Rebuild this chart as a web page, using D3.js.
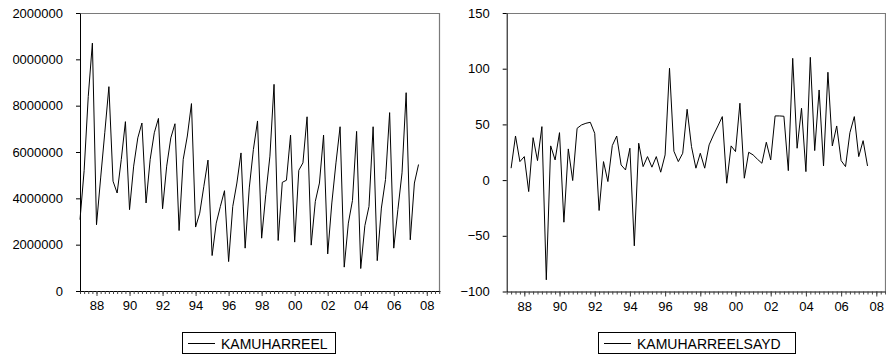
<!DOCTYPE html>
<html>
<head>
<meta charset="utf-8">
<script src="https://cdn.jsdelivr.net/npm/d3@7"></script>
<style>
  body { margin: 0; background: #fff; }
  svg { display: block; font-family: "Liberation Sans", Arial, sans-serif; }
</style>
</head>
<body>
<svg id="chart" width="886" height="358"></svg>
<script>
// quarterly series, 1987Q1 .. 2007Q3
const startYear = 1987;
const kamuharreel = [
  3.08, 5.2, 8.4, 10.7, 2.86, 4.88, 6.83, 8.82, 4.74, 4.23,
  5.68, 7.31, 3.51, 5.39, 6.61, 7.25, 3.80, 5.68, 6.83, 7.45,
  3.55, 5.39, 6.61, 7.22, 2.61, 5.68, 6.69, 8.09, 2.76, 3.36,
  4.52, 5.65, 1.53, 2.93, 3.65, 4.33, 1.27, 3.65, 4.66, 5.96,
  1.85, 4.45, 6.11, 7.34, 2.28, 4.16, 5.82, 8.92, 2.18, 4.69,
  4.78, 6.73, 2.11, 5.21, 5.53, 7.52, 1.98, 3.87, 4.66, 6.73,
  1.60, 3.80, 5.53, 7.09, 1.03, 2.93, 3.91, 6.89, 0.97, 2.82,
  3.65, 7.09, 1.31, 3.58, 4.81, 7.70, 1.85, 3.51, 5.10, 8.56,
  2.21, 4.66, 5.46
].map(v => v * 1e6);

// starts 1987Q2
const kamuharreelsayd = [
  10.7, 39.6, 16.6, 21.1, -10.3, 38.1, 17.5, 48.0, -89.5, 30.7,
  18.1, 42.6, -37.8, 28.0, -0.4, 46.5, 49.5, 51.0, 51.9, 42.0,
  -27.3, 16.6, -1.3, 31.0, 39.6, 13.6, 9.1, 28.6, -59.0, 33.1,
  12.1, 21.1, 11.6, 21.1, 7.1, 22.6, 100.4, 25.9, 16.6, 24.1,
  63.6, 30.0, 10.7, 24.1, 10.7, 31.6, 40.5, 48.6, 57.0, -2.8,
  30.7, 25.6, 69.0, 1.7, 25.0, 22.6, 18.7, 15.1, 34.0, 18.1,
  57.6, 57.6, 57.3, 8.5, 109.3, 28.6, 64.5, 7.6, 110.2, 26.5,
  80.9, 12.7, 96.8, 30.7, 48.6, 17.5, 12.1, 42.6, 57.0, 21.1,
  35.4, 12.7
];

const yearTicks = [1988, 1990, 1992, 1994, 1996, 1998, 2000, 2002, 2004, 2006, 2008];
const yearLabels = ['88', '90', '92', '94', '96', '98', '00', '02', '04', '06', '08'];
const leftTicks = [0, 2000000, 4000000, 6000000, 8000000, 10000000, 12000000];
const rightTicks = [-100, -50, 0, 50, 100, 150];

const svg = d3.select('#chart');

// the original picture is cropped on the left, labels get cut
svg.append('defs').append('clipPath').attr('id', 'crop')
  .append('rect').attr('x', 12.5).attr('y', 0).attr('width', 886).attr('height', 358);

function panel(opts) {
  const { x0, x1, y0, y1, tEnd, yDomain, yTicks, values, tStart, name, legendX, legendW } = opts;

  const x = d3.scaleLinear().domain([startYear, tEnd]).range([x0, x1]);
  const y = d3.scaleLinear().domain(yDomain).range([y1, y0]);
  const g = svg.append('g').attr('clip-path', 'url(#crop)');

  // frame (top and right, grey)
  g.append('path')
    .attr('d', `M${x0},${y0 + 0.5}H${x1 - 0.5}V${y1}`)
    .attr('fill', 'none')
    .attr('stroke', '#7a7a7a')
    .attr('stroke-width', 1.2);

  // quarter ticks
  const quarters = d3.range(0, Math.floor((tEnd - startYear) * 4) + 1).map(q => startYear + q / 4);
  const xAxis = d3.axisBottom(x)
    .tickValues(quarters)
    .tickSize(3)
    .tickSizeOuter(0)
    .tickFormat('');
  const gx = g.append('g')
    .attr('transform', `translate(0,${y1})`)
    .call(xAxis);
  gx.select('.domain').attr('stroke', '#000');
  gx.selectAll('.tick line').attr('stroke', '#444');

  // year labels
  const gl = g.append('g')
    .attr('transform', `translate(0,${y1})`)
    .call(d3.axisBottom(x)
      .tickValues(yearTicks)
      .tickSize(5)
      .tickPadding(5)
      .tickFormat((d, i) => yearLabels[i]));
  gl.select('.domain').remove();
  gl.selectAll('.tick line').attr('stroke', '#444');
  gl.selectAll('text').attr('font-size', 13).attr('fill', '#000').attr('font-family', '"Liberation Sans", Arial, sans-serif');

  // y axis
  const gy = g.append('g')
    .attr('transform', `translate(${x0},0)`)
    .call(d3.axisLeft(y)
      .tickValues(yTicks)
      .tickSize(4)
      .tickSizeOuter(0)
      .tickPadding(13)
      .tickFormat(d3.format('d')));
  gy.select('.domain').attr('stroke', '#000');
  gy.selectAll('text').attr('font-size', 13).attr('fill', '#000').attr('font-family', '"Liberation Sans", Arial, sans-serif');

  // series line
  const line = d3.line()
    .x((d, i) => x(tStart + i / 4))
    .y(d => y(d));
  g.append('path')
    .datum(values)
    .attr('d', line)
    .attr('fill', 'none')
    .attr('stroke', '#000')
    .attr('stroke-width', 1);

  // legend
  const lg = g.append('g').attr('transform', `translate(${legendX},332)`);
  lg.append('rect')
    .attr('x', 0.5).attr('y', 0.5)
    .attr('width', legendW).attr('height', 21)
    .attr('fill', '#fff')
    .attr('stroke', '#000');
  lg.append('line')
    .attr('x1', 6).attr('x2', 33)
    .attr('y1', 11.5).attr('y2', 11.5)
    .attr('stroke', '#000');
  lg.append('text')
    .attr('x', 39).attr('y', 16.5)
    .attr('font-size', 14)
    .text(name);
}

panel({
  x0: 80, x1: 440, y0: 13, y1: 291,
  tEnd: startYear + 87.2 / 4,
  yDomain: [0, 12000000], yTicks: leftTicks,
  values: kamuharreel, tStart: startYear,
  name: 'KAMUHARREEL', legendX: 182, legendW: 153
});

panel({
  x0: 506.7, x1: 886, y0: 13, y1: 291.5,
  tEnd: startYear + 86.2 / 4,
  yDomain: [-100, 150], yTicks: rightTicks,
  values: kamuharreelsayd, tStart: startYear + 0.25,
  name: 'KAMUHARREELSAYD', legendX: 598, legendW: 197
});
</script>
</body>
</html>
